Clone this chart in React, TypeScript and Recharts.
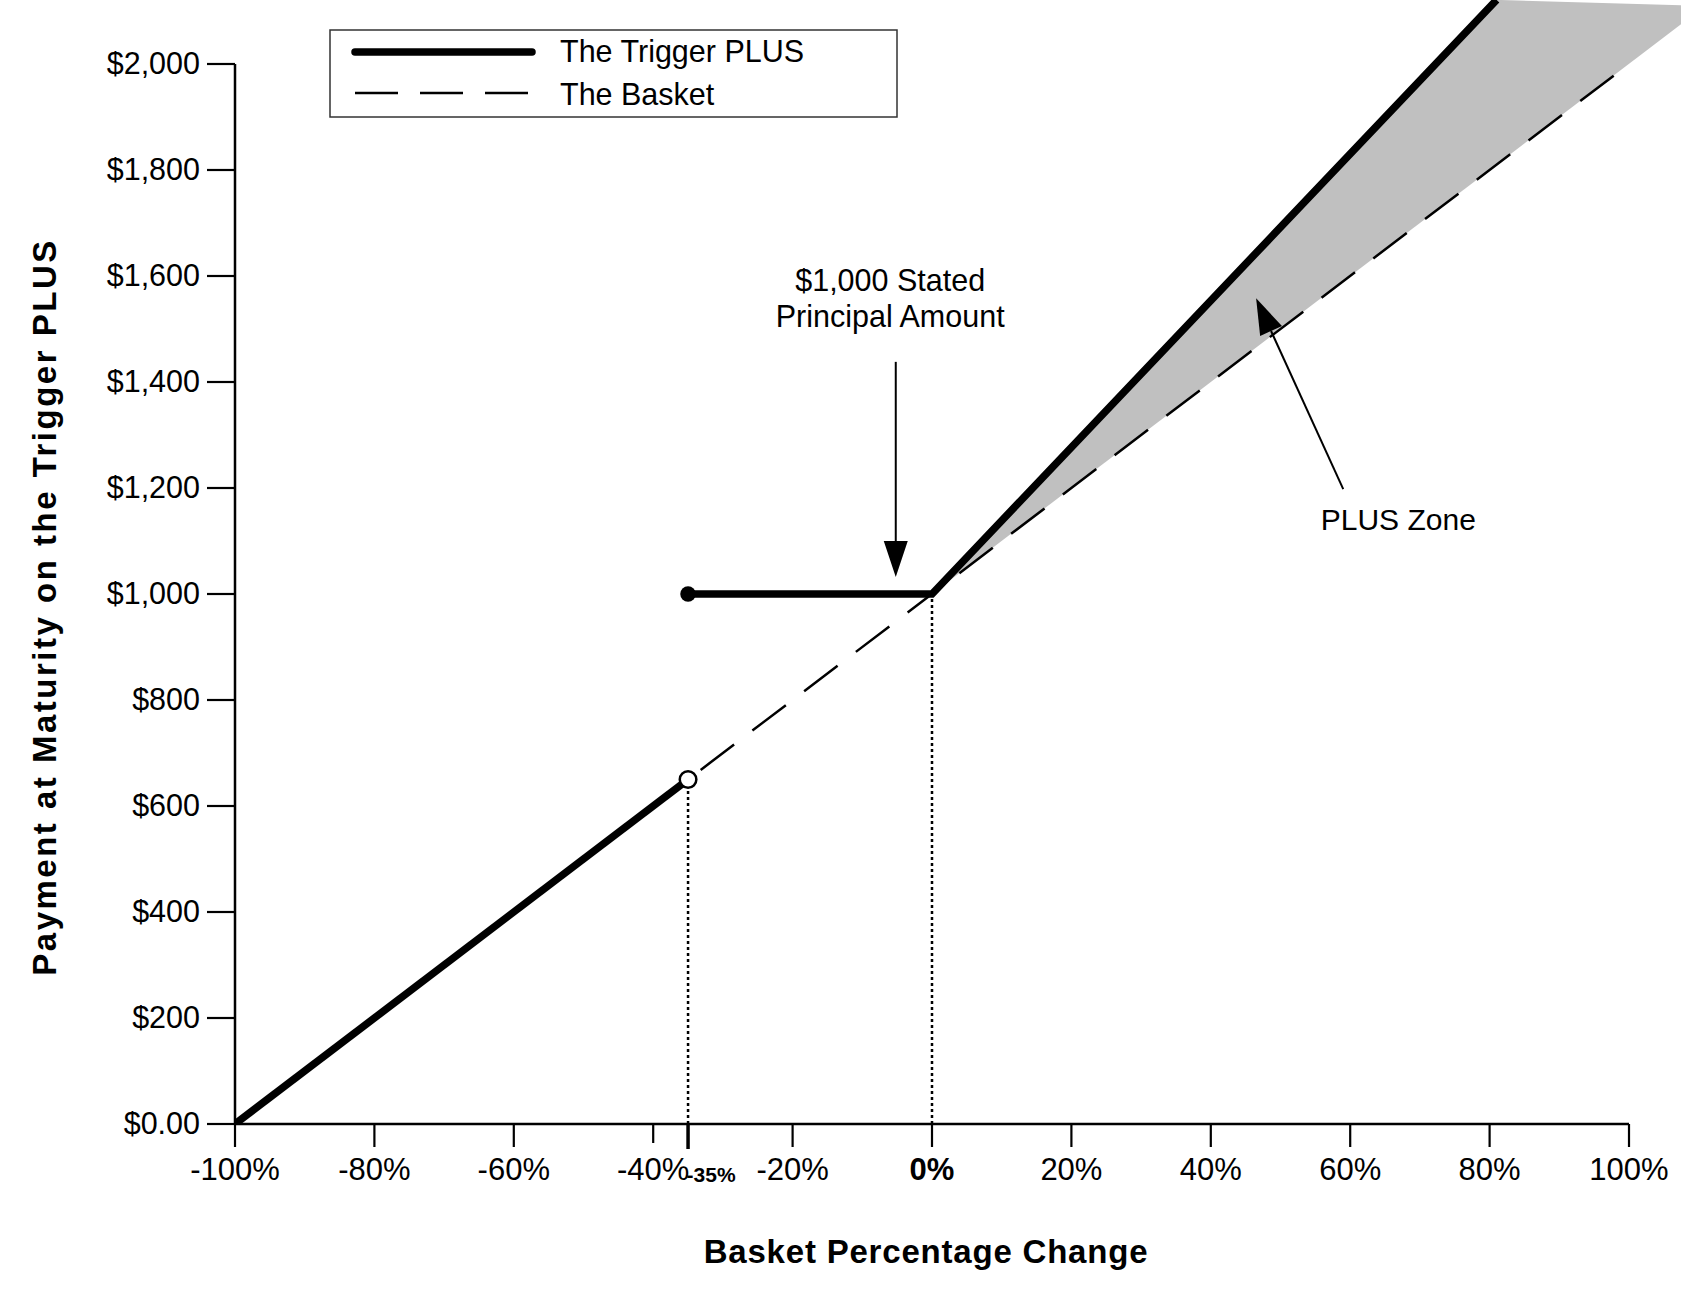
import { ComposedChart, Line, Area, XAxis, YAxis, ReferenceLine, ReferenceDot } from 'recharts';

const FONT = '"Liberation Sans", Arial, Helvetica, sans-serif';

// Axis ticks
const xTicks = [-100, -80, -60, -40, -35, -20, 0, 20, 40, 60, 80, 100];
const yTicks = [0, 200, 400, 600, 800, 1000, 1200, 1400, 1600, 1800, 2000];

// The Trigger PLUS payoff (basket % change -> payment)
const triggerBelowX = [-100, -35];
const triggerBelowY = [0, 650];
const triggerAboveX = [-35, 0, 81];
const triggerAboveY = [1000, 1000, 2121];

// The Basket
const basketX = [-100, 100];
const basketY = [0, 2000];

// PLUS Zone (shaded between basket and trigger)
const zoneX = [0, 81, 107.46];
const zoneLow = [1000, 1810, 2075];
const zoneHigh = [1000, 2121, 2111];

const toPoints = (xs: number[], ys: number[]) => xs.map((x, i) => ({ x, y: ys[i] }));
const zonePoints = zoneX.map((x, i) => ({ x, range: [zoneLow[i], zoneHigh[i]] }));

function XTick({ x, y, payload }: any) {
  const v = payload.value;
  if (v === -35) {
    return (
      <g>
        <line x1={x} y1={y} x2={x} y2={y + 25} stroke="#000" strokeWidth={3.5} />
        <text x={x + 23} y={y + 58} textAnchor="middle" fontSize={21} fontWeight="bold" fontFamily={FONT} fill="#000">
          -35%
        </text>
      </g>
    );
  }
  return (
    <g>
      <line x1={x} y1={y} x2={x} y2={y + (v === -40 ? 19 : 23)} stroke="#000" strokeWidth={2.2} />
      <text
        x={x}
        y={y + 56}
        textAnchor="middle"
        fontSize={31}
        fontWeight={v === 0 ? 'bold' : 'normal'}
        fontFamily={FONT}
        fill="#000"
      >
        {`${v}%`}
      </text>
    </g>
  );
}

function YTick({ x, y, payload }: any) {
  const v = payload.value;
  const label = v === 0 ? '$0.00' : '$' + v.toLocaleString('en-US');
  return (
    <g>
      <line x1={x - 28} y1={y} x2={x} y2={y} stroke="#000" strokeWidth={2.2} />
      <text x={x - 35} y={y + 10} textAnchor="end" fontSize={30.5} fontFamily={FONT} fill="#000">
        {label}
      </text>
    </g>
  );
}

function Arrow({ x1, y1, x2, y2 }: any) {
  const a = Math.atan2(y2 - y1, x2 - x1);
  const len = 36;
  const hw = 12;
  const bx = x2 - len * Math.cos(a);
  const by = y2 - len * Math.sin(a);
  const px = -Math.sin(a) * hw;
  const py = Math.cos(a) * hw;
  return (
    <g>
      <line x1={x1} y1={y1} x2={bx} y2={by} stroke="#000" strokeWidth={2} />
      <polygon points={`${x2},${y2} ${bx + px},${by + py} ${bx - px},${by - py}`} fill="#000" />
    </g>
  );
}

export default function App() {
  return (
    <div style={{ position: 'absolute', left: 0, top: 0, width: 1681, height: 1296, background: '#fff' }}>
      <ComposedChart width={1681} height={1296} margin={{ top: 0, right: 0, bottom: 112, left: 175 }}>
        <XAxis
          type="number"
          dataKey="x"
          domain={[-100, 107.46]}
          allowDataOverflow
          ticks={xTicks}
          interval={0}
          height={60}
          axisLine={false}
          tickLine={false}
          tickSize={0}
          tickMargin={0}
          tick={XTick}
        />
        <YAxis
          type="number"
          dataKey="y"
          domain={[0, 2120.75]}
          allowDataOverflow
          ticks={yTicks}
          interval={0}
          width={60}
          axisLine={false}
          tickLine={false}
          tickSize={0}
          tickMargin={0}
          tick={YTick}
        />

        <Area
          data={zonePoints}
          dataKey="range"
          type="linear"
          fill="#c0c0c0"
          fillOpacity={1}
          stroke="none"
          isAnimationActive={false}
        />

        {/* axes */}
        <ReferenceLine segment={[{ x: -100, y: 0 }, { x: -100, y: 2000 }]} stroke="#000" strokeWidth={2.5} />
        <ReferenceLine segment={[{ x: -100, y: 0 }, { x: 100, y: 0 }]} stroke="#000" strokeWidth={2.5} />

        {/* dotted drop lines */}
        <ReferenceLine segment={[{ x: -35, y: 0 }, { x: -35, y: 650 }]} stroke="#000" strokeWidth={2.5} strokeDasharray="3 3" />
        <ReferenceLine segment={[{ x: 0, y: 0 }, { x: 0, y: 1000 }]} stroke="#000" strokeWidth={2.5} strokeDasharray="3 3" />

        <Line
          data={toPoints(basketX, basketY)}
          dataKey="y"
          type="linear"
          stroke="#000"
          strokeWidth={2.5}
          strokeDasharray="42 23"
          dot={false}
          activeDot={false}
          isAnimationActive={false}
        />
        <Line
          data={toPoints(triggerBelowX, triggerBelowY)}
          dataKey="y"
          type="linear"
          stroke="#000"
          strokeWidth={7.5}
          dot={false}
          activeDot={false}
          isAnimationActive={false}
        />
        <Line
          data={toPoints(triggerAboveX, triggerAboveY)}
          dataKey="y"
          type="linear"
          stroke="#000"
          strokeWidth={7.5}
          dot={false}
          activeDot={false}
          isAnimationActive={false}
        />

        <ReferenceDot x={-35} y={1000} r={7.8} fill="#000" stroke="#000" strokeWidth={0} />
        <ReferenceDot x={-35} y={650} r={8.3} fill="#fff" stroke="#000" strokeWidth={2.5} />

        {/* annotations */}
        <ReferenceLine segment={[{ x: -5.2, y: 1438 }, { x: -5.2, y: 1032 }]} shape={<Arrow />} />
        <ReferenceLine segment={[{ x: 59, y: 1198 }, { x: 46.5, y: 1558 }]} shape={<Arrow />} />
        <ReferenceDot
          x={-6}
          y={1572}
          r={0}
          shape={(p: any) => (
            <text x={p.cx} y={p.cy} textAnchor="middle" fontSize={30.5} fontFamily={FONT} fill="#000">
              <tspan x={p.cx}>$1,000 Stated</tspan>
              <tspan x={p.cx} dy={36}>Principal Amount</tspan>
            </text>
          )}
        />
        <ReferenceDot
          x={66.9}
          y={1121}
          r={0}
          shape={(p: any) => (
            <text x={p.cx} y={p.cy} textAnchor="middle" fontSize={30} fontFamily={FONT} fill="#000">
              PLUS Zone
            </text>
          )}
        />
      </ComposedChart>

      {/* legend and axis titles */}
      <svg width={1681} height={1296} style={{ position: 'absolute', left: 0, top: 0, pointerEvents: 'none' }}>
        <rect x={330} y={30} width={567} height={87} fill="#fff" stroke="#333" strokeWidth={1.5} />
        <line x1={355} y1={52} x2={532} y2={52} stroke="#000" strokeWidth={7.5} strokeLinecap="round" />
        <line x1={355} y1={93} x2={530} y2={93} stroke="#000" strokeWidth={2.5} strokeDasharray="43 22" />
        <text x={560} y={62} fontSize={30.5} fontFamily={FONT} fill="#000">The Trigger PLUS</text>
        <text x={560} y={105} fontSize={30.5} fontFamily={FONT} fill="#000">The Basket</text>

        <text
          x={926}
          y={1263}
          textAnchor="middle"
          fontSize={33}
          fontWeight="bold"
          letterSpacing={0.8}
          fontFamily={FONT}
          fill="#000"
        >
          Basket Percentage Change
        </text>
        <text
          transform="translate(56, 607) rotate(-90)"
          x={0}
          y={0}
          textAnchor="middle"
          fontSize={33}
          fontWeight="bold"
          letterSpacing={2.5}
          fontFamily={FONT}
          fill="#000"
        >
          Payment at Maturity on the Trigger PLUS
        </text>
      </svg>
    </div>
  );
}
